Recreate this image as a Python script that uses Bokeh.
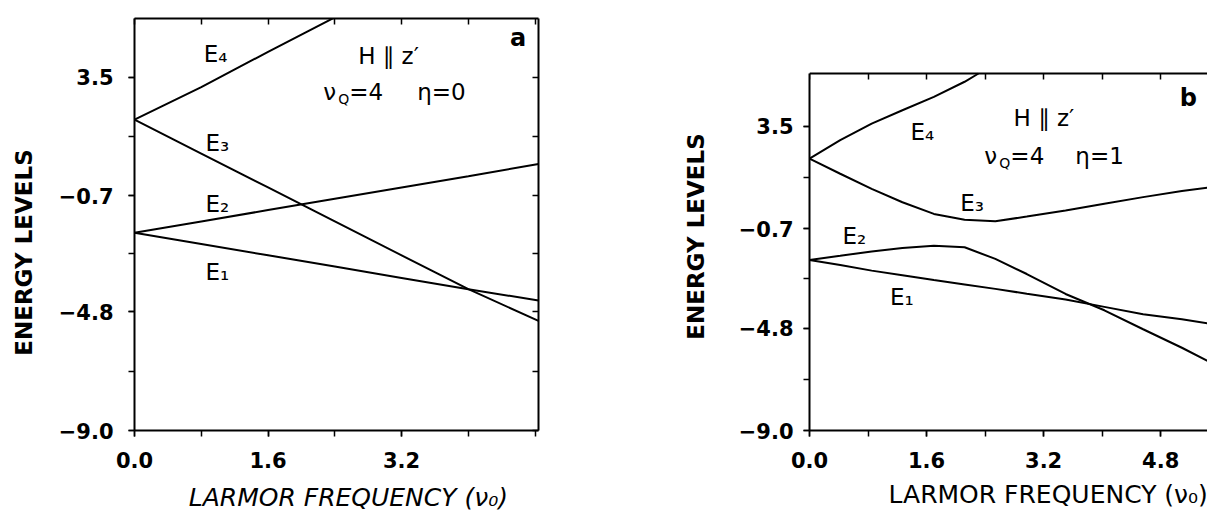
from bokeh.plotting import figure
from bokeh.models import Range1d, FixedTicker, LinearAxis
from bokeh.layouts import row
from bokeh.embed import file_html
from bokeh.resources import INLINE
from bokeh.core.properties import value

# ---------------- data ----------------
# panel a : nu_Q = 4, eta = 0
xa = [0.0, 0.8, 1.6, 2.4, 3.2, 4.0, 4.84]
a_E1 = [-2.0, -2.4, -2.8, -3.2, -3.6, -4.0, -4.40]
a_E2 = [-2.0, -1.6, -1.2, -0.8, -0.4, 0.0, 0.43]
a_E3 = [2.0, 0.8, -0.4, -1.6, -2.8, -4.0, -5.12]
xa4 = [0.0, 0.8, 1.6, 2.4]
a_E4 = [2.0, 3.15, 4.4, 5.62]

# panel b : nu_Q = 4, eta = 1
xb = [0.0, 0.42, 0.85, 1.27, 1.70, 2.12, 2.54, 2.97, 3.50, 4.03, 4.56, 5.09, 5.44]
b_E1 = [-1.99, -2.20, -2.43, -2.62, -2.82, -3.00, -3.18, -3.38, -3.62, -3.92, -4.22, -4.43, -4.60]
b_E2 = [-1.99, -1.82, -1.64, -1.50, -1.41, -1.47, -1.95, -2.57, -3.39, -4.06, -4.84, -5.60, -6.14]
b_E3 = [2.17, 1.55, 0.93, 0.38, -0.10, -0.34, -0.40, -0.21, 0.04, 0.32, 0.59, 0.84, 0.98]
xb4 = [0.0, 0.42, 0.85, 1.27, 1.70, 2.12, 2.31]
b_E4 = [2.17, 2.93, 3.61, 4.16, 4.71, 5.33, 5.67]

# axes
x_minor = [0.0, 0.8, 1.6, 2.4, 3.2, 4.0, 4.8]
x_major_a = [0.0, 1.6, 3.2]
x_major_b = [0.0, 1.6, 3.2, 4.8]
x_major_labels = ["0.0", "1.6", "3.2", "4.8"]
y_minor = [-9.0, -6.9, -4.8, -2.75, -0.7, 1.4, 3.5]
y_major = [-9.0, -4.8, -0.7, 3.5]
y_major_labels = ["\u22129.0", "\u22124.8", "\u22120.7", "3.5"]
a_ymax = 5.58          # top edge of panel a
b_ymax = 5.67          # top edge of panel b's box

FONT = "DejaVu Sans"
NB = "\u00a0"


def frame_axis(ticks, **kw):
    return LinearAxis(ticker=FixedTicker(ticks=[], minor_ticks=ticks),
                      minor_tick_in=6, minor_tick_out=0, minor_tick_line_width=1.5,
                      major_tick_line_color=None, axis_line_width=2,
                      major_label_standoff=0, **kw)


def make_panel(width, mbl, mbr, xend, ytop, ybound, x_major, x_std, y_std,
               xl_std, yl_std, xlabel, ylabel, xl_style):
    p = figure(width=width, height=514, output_backend="svg",
               toolbar_location=None, x_range=Range1d(0, xend),
               y_range=Range1d(-9.0, ytop), min_border_left=mbl,
               min_border_right=mbr, min_border_top=18, min_border_bottom=83,
               x_axis_label=xlabel, y_axis_label=ylabel)
    p.outline_line_color = None
    p.grid.visible = False

    ax_x = p.xaxis[0]
    ax_x.ticker = FixedTicker(ticks=x_major, minor_ticks=x_minor)
    ax_x.major_label_overrides = {t: l for t, l in zip(x_major, x_major_labels)}
    ax_x.major_label_standoff = x_std
    ax_x.axis_label_standoff = xl_std
    ax_x.axis_label_text_font_style = xl_style
    ax_x.axis_label_text_font_size = "25px"
    ax_y = p.yaxis[0]
    ax_y.ticker = FixedTicker(ticks=y_major, minor_ticks=y_minor)
    ax_y.major_label_overrides = {t: l for t, l in zip(y_major, y_major_labels)}
    ax_y.major_label_standoff = y_std
    ax_y.axis_label_standoff = yl_std
    ax_y.axis_label_text_font_style = "bold"
    ax_y.axis_label_text_font_size = "23px"
    ax_y.bounds = (-9.0, ybound)
    for ax in (ax_x, ax_y):
        ax.axis_line_width = 2
        ax.major_tick_line_width = 1.5
        ax.minor_tick_line_width = 1.5
        ax.major_tick_out = 6
        ax.major_tick_in = 0
        ax.minor_tick_out = 6
        ax.minor_tick_in = 0
        ax.major_label_text_font = FONT
        ax.major_label_text_font_style = "bold"
        ax.major_label_text_font_size = "21px"
        ax.major_label_text_color = "black"
        ax.axis_label_text_font = FONT
        ax.axis_label_text_color = "black"
    return p


def add_texts(p, e_x, e_y, h_xy, nu_xy, eta_txt, eta_off, tag, tag_xy):
    p.text(x=e_x, y=e_y, text=["E\u2084", "E\u2083", "E\u2082", "E\u2081"],
           text_font=value(FONT), text_font_size="23px", text_baseline="middle",
           text_align="left", text_color="black")
    p.text(x=[h_xy[0]], y=[h_xy[1]], text=["H \u2225 z\u2032"], text_font=value(FONT),
           text_font_size="23px", text_baseline="middle", text_align="left")
    p.text(x=[nu_xy[0]], y=[nu_xy[1]], text=["\u03bd"], text_font=value(FONT),
           text_font_size="23px", text_baseline="middle", text_align="left")
    p.text(x=[nu_xy[0]], y=[nu_xy[1]], text=["Q"], x_offset=15, y_offset=7,
           text_font=value(FONT), text_font_size="14px", text_baseline="middle",
           text_align="left")
    p.text(x=[nu_xy[0]] * 2, y=[nu_xy[1]] * 2, text=["=4", eta_txt],
           x_offset=[26, eta_off], text_font=value(FONT), text_font_size="23px",
           text_baseline="middle", text_align="left")
    p.text(x=[tag_xy[0]], y=[tag_xy[1]], text=[tag], text_font=value(FONT),
           text_font_size="24px", text_font_style="bold", text_baseline="middle",
           text_align="left")


# ---------------- panel a ----------------
pa = make_panel(620, 134, 82, 4.84, a_ymax, a_ymax, x_major_a, 15, 15, 12, 19,
                NB * 3 + "LARMOR FREQUENCY (\u03bd\u2080)",
                "ENERGY LEVELS" + NB * 7, "italic")
pa.add_layout(frame_axis(x_minor), "above")
pa.add_layout(frame_axis(y_minor), "right")
for ys, xs in ((a_E1, xa), (a_E2, xa), (a_E3, xa), (a_E4, xa4)):
    pa.line(xs, ys, line_color="black", line_width=2)
add_texts(pa, [0.83, 0.85, 0.85, 0.85], [4.32, 1.18, -1.0, -3.40],
          (2.68, 4.25), (2.26, 2.98), "\u03b7=0", 94, "a", (4.5, 4.89))

# ---------------- panel b ----------------
pb = make_panel(587, 189, 0, 5.44, 7.93, b_ymax, x_major_b, 15, 10, 9, 27,
                NB * 10 + "LARMOR FREQUENCY (\u03bd\u2080)",
                "ENERGY LEVELS" + NB * 3, "normal")
pb.add_layout(frame_axis(x_minor, fixed_location=b_ymax), "above")
for ys, xs in ((b_E1, xb), (b_E2, xb), (b_E3, xb), (b_E4, xb4)):
    pb.line(xs, ys, line_color="black", line_width=2)
add_texts(pb, [1.38, 2.06, 0.45, 1.10], [3.25, 0.33, -0.99, -3.51],
          (2.79, 3.83), (2.39, 2.27), "\u03b7=1", 91, "b", (5.06, 4.66))

layout = row(pa, pb)
open("out.html", "w").write(file_html(layout, INLINE))
